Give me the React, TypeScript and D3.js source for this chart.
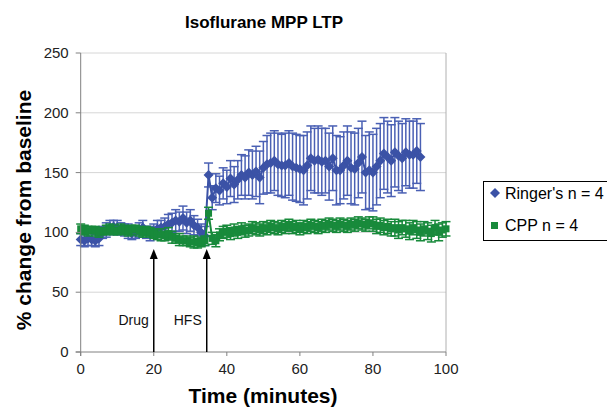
import React from 'react';
import * as d3 from 'd3';

// samples are one minute apart, index = minute
const ringerMean = [
  94, 93, 95, 94, 93, 95, 100, 102, 104, 105, 104, 103, 102, 101, 99, 100, 102, 104, 100, 99,
  101, 103, 104, 105, 107, 108, 110, 109, 112, 108, 110, 106, 104, 100, 97, 148, 129, 137, 135, 141,
  138, 145, 140, 144, 148, 146, 150, 148, 151, 146, 154, 157, 158, 160, 157, 156, 156, 158, 155, 154,
  153, 152, 156, 162, 160, 161, 159, 160, 155, 162, 152, 152, 156, 160, 154, 153, 158, 163, 150, 152,
  150, 155, 160, 166, 163, 160, 167, 164, 162, 167, 165, 165, 168, 163,
];
const ringerErr = [
  5, 5, 6, 5, 5, 6, 5, 6, 6, 5, 6, 5, 5, 6, 5, 5, 6, 6, 5, 6,
  6, 7, 6, 7, 8, 8, 9, 8, 10, 9, 9, 8, 7, 7, 8, 10, 10, 12, 12, 13,
  14, 15, 15, 16, 17, 18, 19, 20, 21, 22, 22, 24, 25, 25, 26, 26, 27, 27, 28, 28,
  28, 29, 28, 27, 27, 28, 28, 27, 28, 27, 29, 28, 28, 29, 30, 30, 29, 30, 31, 32,
  32, 32, 31, 30, 30, 30, 29, 29, 29, 28, 28, 28, 27, 28,
];
const cppMean = [
  103, 102, 101, 102, 101, 100, 101, 102, 103, 102, 101, 103, 102, 101, 102, 103, 101, 100, 101, 100,
  99, 98, 98, 97, 99, 96, 95, 94, 93, 93, 92, 92, 91, 92, 93, 116, 95, 93, 98, 100,
  101, 99, 102, 100, 103, 101, 102, 104, 103, 102, 104, 103, 105, 104, 103, 105, 104, 106, 104, 105,
  103, 105, 104, 106, 105, 104, 106, 105, 107, 106, 105, 107, 106, 105, 107, 106, 108, 107, 106, 108,
  107, 105, 106, 104, 105, 103, 104, 102, 104, 103, 101, 104, 102, 100, 103, 101, 99, 104, 100, 102,
  103,
];
const cppErr = [
  4, 4, 4, 3, 4, 4, 3, 4, 4, 4, 3, 4, 4, 4, 4, 3, 4, 4, 4, 4,
  4, 4, 5, 4, 5, 5, 4, 5, 4, 4, 4, 5, 4, 4, 4, 5, 5, 5, 5, 5,
  5, 5, 5, 5, 5, 5, 5, 5, 5, 5, 5, 5, 5, 5, 5, 5, 5, 5, 5, 5,
  5, 5, 5, 5, 5, 5, 5, 5, 5, 5, 5, 5, 5, 5, 5, 5, 5, 5, 5, 5,
  6, 6, 6, 6, 6, 6, 7, 7, 6, 7, 7, 6, 7, 7, 6, 7, 7, 6, 7, 6,
  6,
];

const xTicks = [0, 20, 40, 60, 80, 100];
const yTicks = [0, 50, 100, 150, 200, 250];
const events = [
  { label: 'Drug', time: 20 },
  { label: 'HFS', time: 34.5 },
];
const legendItems = ["Ringer's n = 4", 'CPP n = 4'];

const BLUE = '#3b52a6';
const BLUE_BAR = '#4a60b4';
const GREEN = '#188a3b';
const FONT = 'Arial, "Liberation Sans", sans-serif';

const x = d3.scaleLinear().domain([0, 100]).range([80.7, 446]);
const y = d3.scaleLinear().domain([0, 250]).range([352, 53]);

type Pt = { t: number; v: number; e: number };
const toPts = (m: number[], e: number[]): Pt[] => m.map((v, i) => ({ t: i, v, e: e[i] }));
const ringer = toPts(ringerMean, ringerErr);
const cpp = toPts(cppMean, cppErr);

const line = d3.line<Pt>().x(d => x(d.t)).y(d => y(d.v));
// Excel style diamond: square turned 45 degrees
const DR = 5;
const diamond = `M0,${-DR}L${DR},0L0,${DR}L${-DR},0Z`;
const SQ = 7;

function ErrorBars({ data, color }: { data: Pt[]; color: string }) {
  const cap = 4.5;
  return (
    <g stroke={color} strokeWidth={1.5}>
      {data.map(d => {
        const cx = x(d.t);
        const top = y(d.v + d.e);
        const bot = y(d.v - d.e);
        return (
          <g key={d.t}>
            <line x1={cx} x2={cx} y1={top} y2={bot} />
            <line x1={cx - cap} x2={cx + cap} y1={top} y2={top} />
            <line x1={cx - cap} x2={cx + cap} y1={bot} y2={bot} />
          </g>
        );
      })}
    </g>
  );
}

export default function App() {
  return (
    <svg width={607} height={407} style={{ position: 'absolute', left: 0, top: 0, background: '#fff' }}
      fontFamily={FONT}>
      <rect width={607} height={407} fill="#fff" />
      {/* gridlines */}
      {yTicks.filter(t => t > 0).map(t => (
        <line key={t} x1={x(0)} x2={x(100)} y1={y(t)} y2={y(t)} stroke="#d6d6d6" strokeWidth={1} />
      ))}
      <line x1={x(100)} x2={x(100)} y1={y(0)} y2={y(250)} stroke="#b0b0b0" strokeWidth={1} />

      {/* Ringer's */}
      <ErrorBars data={ringer} color={BLUE_BAR} />
      <path d={line(ringer) || ''} fill="none" stroke={BLUE} strokeWidth={2} />
      {ringer.map(d => (
        <path key={d.t} d={diamond} transform={`translate(${x(d.t)},${y(d.v)})`} fill={BLUE} />
      ))}

      {/* CPP */}
      <ErrorBars data={cpp} color={GREEN} />
      <path d={line(cpp) || ''} fill="none" stroke={GREEN} strokeWidth={2} />
      {cpp.map(d => (
        <rect key={d.t} x={x(d.t) - SQ / 2} y={y(d.v) - SQ / 2} width={SQ} height={SQ} fill={GREEN} />
      ))}

      {/* axes */}
      <line x1={x(0)} x2={x(0)} y1={y(0) + 4} y2={y(250)} stroke="#808080" />
      <line x1={x(0) - 5} x2={x(100)} y1={y(0)} y2={y(0)} stroke="#808080" />
      {yTicks.map(t => (
        <g key={t}>
          <line x1={x(0) - 5} x2={x(0)} y1={y(t)} y2={y(t)} stroke="#808080" />
          <text x={x(0) - 12} y={y(t) + 5} textAnchor="end" fontSize={15} fill="#222">{t}</text>
        </g>
      ))}
      {xTicks.map(t => (
        <g key={t}>
          <line x1={x(t)} x2={x(t)} y1={y(0)} y2={y(0) + 4} stroke="#808080" />
          <text x={x(t)} y={374} textAnchor="middle" fontSize={15} fill="#222">{t}</text>
        </g>
      ))}

      {/* event arrows */}
      {events.map(ev => {
        const ax = x(ev.time);
        const tip = 249;
        return (
          <g key={ev.label}>
            <line x1={ax} x2={ax} y1={y(0)} y2={tip + 8} stroke="#000" strokeWidth={1.5} />
            <path d={`M${ax},${tip} L${ax - 4},${tip + 10} L${ax + 4},${tip + 10} Z`} fill="#000" />
            <text x={ax - 5} y={325} textAnchor="end" fontSize={14} fill="#111">{ev.label}</text>
          </g>
        );
      })}

      {/* titles */}
      <text x={264} y={28} textAnchor="middle" fontSize={17} fontWeight="bold">Isoflurane MPP LTP</text>
      <text x={263} y={403} textAnchor="middle" fontSize={21} fontWeight="bold">Time (minutes)</text>
      <text transform="translate(31,210) rotate(-90)" textAnchor="middle" fontSize={21} fontWeight="bold">
        % change from baseline
      </text>

      {/* legend */}
      <rect x={483.5} y={181.5} width={130} height={59} fill="#fff" stroke="#000" />
      <path d={diamond} transform="translate(495,193)" fill={BLUE} />
      <text x={505} y={199} fontSize={16}>{legendItems[0]}</text>
      <rect x={491} y={222} width={SQ} height={SQ} fill={GREEN} />
      <text x={505} y={231} fontSize={16}>{legendItems[1]}</text>
    </svg>
  );
}
